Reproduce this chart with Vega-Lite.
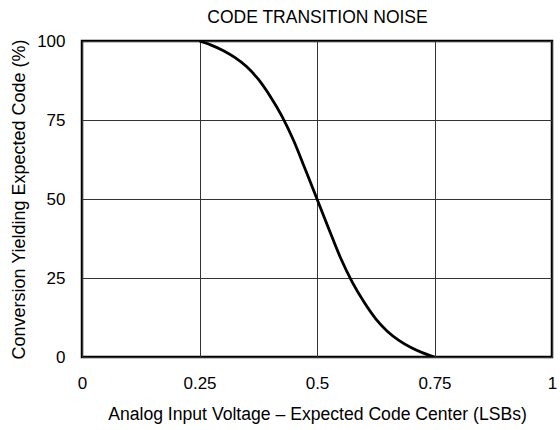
{
  "$schema": "https://vega.github.io/schema/vega-lite/v6.json",
  "width": 470,
  "height": 316,
  "autosize": {"type": "none"},
  "padding": {"left": 82, "top": 41, "right": 8, "bottom": 73},
  "background": "white",
  "config": {
    "font": "Liberation Sans",
    "view": {"stroke": "black", "strokeWidth": 2.5},
    "axis": {"labelFont": "Liberation Sans", "titleFont": "Liberation Sans", "labelFontSize": 17, "titleFontSize": 17.6, "labelColor": "black", "titleColor": "black", "titleFontWeight": "normal", "domain": false, "ticks": false, "gridColor": "#333", "gridOpacity": 1, "gridWidth": 1}
  },
  "data": {"values": [
    {"x": 0.25, "y": 100},
    {"x": 0.275, "y": 98.7},
    {"x": 0.3, "y": 97.0},
    {"x": 0.325, "y": 94.8},
    {"x": 0.35, "y": 91.9},
    {"x": 0.375, "y": 87.9},
    {"x": 0.4, "y": 82.6},
    {"x": 0.425, "y": 76.3},
    {"x": 0.45, "y": 68.6},
    {"x": 0.475, "y": 59.4},
    {"x": 0.5, "y": 50},
    {"x": 0.525, "y": 40.6},
    {"x": 0.55, "y": 31.4},
    {"x": 0.575, "y": 23.7},
    {"x": 0.6, "y": 17.4},
    {"x": 0.625, "y": 12.1},
    {"x": 0.65, "y": 8.1},
    {"x": 0.675, "y": 5.2},
    {"x": 0.7, "y": 3.0},
    {"x": 0.725, "y": 1.3},
    {"x": 0.75, "y": 0}
  ]},
  "layer": [
    {
      "mark": {"type": "line", "color": "black", "strokeWidth": 2.8, "interpolate": "monotone", "clip": true},
      "encoding": {
        "x": {"field": "x", "type": "quantitative", "scale": {"domain": [0, 1], "nice": false},
          "axis": {"values": [0, 0.25, 0.5, 0.75, 1], "labelExpr": "datum.value", "labelPadding": 18, "title": "Analog Input Voltage – Expected Code Center (LSBs)", "titlePadding": 14, "labelFlush": false}},
        "y": {"field": "y", "type": "quantitative", "scale": {"domain": [0, 100], "nice": false},
          "axis": {"values": [0, 25, 50, 75, 100], "labelPadding": 17, "title": "Conversion Yielding Expected Code (%)", "titleFontSize": 18, "titlePadding": 8, "labelFlush": false}}
      }
    },
    {
      "mark": {"type": "line", "opacity": 0},
      "encoding": {
        "x": {"field": "x", "type": "quantitative", "scale": {"domain": [0, 1], "nice": false},
          "axis": {"orient": "top", "labels": false, "grid": false, "ticks": false, "domain": false, "title": "CODE TRANSITION NOISE", "titleFontSize": 17.5, "titleBaseline": "alphabetic", "titlePadding": 19}},
        "y": {"field": "y", "type": "quantitative"}
      }
    }
  ],
  "resolve": {"axis": {"x": "independent"}}
}
